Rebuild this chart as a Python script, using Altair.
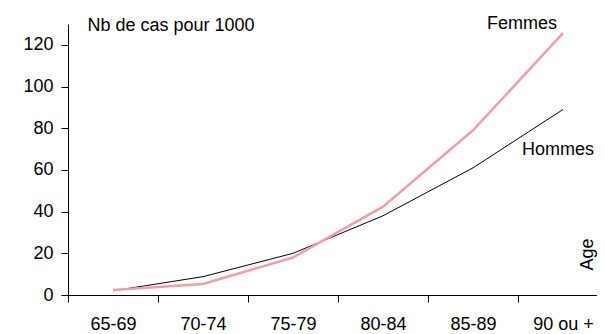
import altair as alt
import pandas as pd

ages = ["65-69", "70-74", "75-79", "80-84", "85-89", "90 ou +"]
hommes = [2.0, 8.8, 20.0, 38.0, 61.0, 89.0]
femmes = [2.4, 5.3, 18.0, 42.4, 79.0, 125.6]

label_text = ["Femmes", "Hommes"]
label_idx = [5, 5]
label_y = [130, 69.5]
label_dx = [-41, -5]

FONT = "Liberation Sans"
FS = 18

idx = list(range(len(ages)))
df = pd.DataFrame(
    {"idx": idx * 2,
     "age": ages * 2,
     "val": hommes + femmes,
     "sexe": ["Hommes"] * len(ages) + ["Femmes"] * len(ages)}
)
lab = pd.DataFrame({"t": label_text, "idx": label_idx, "val": label_y})

# plot area 529 px wide with a 90 px step per age group (last group runs off the edge)
xscale = alt.Scale(domain=[-0.5, -0.5 + 529 / 90], nice=False, zero=False)
yscale = alt.Scale(domain=[0, 130], nice=False)

age_arr = "[" + ",".join("'" + a + "'" for a in ages) + "]"
tick_vals = [i - 0.5 for i in range(len(ages) + 1)] + idx

xaxis = alt.Axis(
    title="Age", titleAngle=270, titleX=519, titleY=-41, titleAlign="center",
    titleBaseline="middle", titleFont=FONT, titleFontSize=FS, titleFontWeight="normal",
    titleColor="black",
    values=tick_vals,
    labelExpr="datum.value % 1 == 0 ? " + age_arr + "[datum.value] : ''",
    tickOpacity=alt.condition("datum.value % 1 == 0", alt.value(0), alt.value(1)),
    tickSize=7, tickColor="black", domainColor="black",
    labelFont=FONT, labelFontSize=FS, labelColor="black", labelPadding=13,
    labelOverlap=False, labelFlush=False,
    grid=False, labelAngle=0,
)
yaxis = alt.Axis(
    title="Nb de cas pour 1000", titleAngle=0, titleX=19, titleY=1, titleAlign="left",
    titleBaseline="middle", titleFont=FONT, titleFontSize=FS, titleFontWeight="normal",
    titleColor="black",
    values=[0, 20, 40, 60, 80, 100, 120], tickSize=7, tickColor="black",
    domainColor="black", labelFont=FONT, labelFontSize=FS, labelColor="black",
    labelPadding=8, grid=False,
)

lines = alt.Chart(df).mark_line(clip=False).encode(
    x=alt.X("idx:Q", scale=xscale, axis=xaxis),
    y=alt.Y("val:Q", scale=yscale, axis=yaxis),
    color=alt.Color("sexe:N", scale=alt.Scale(domain=["Hommes", "Femmes"],
                                               range=["#000000", "#EE9FA8"]), legend=None),
    strokeWidth=alt.StrokeWidth("sexe:N", scale=alt.Scale(domain=["Hommes", "Femmes"],
                                                         range=[1, 2.5]), legend=None),
)

label_layers = []
for i in range(len(label_text)):
    label_layers.append(
        alt.Chart(lab.iloc[[i]]).mark_text(font=FONT, fontSize=FS, color="black",
                                           baseline="middle", align="center",
                                           dx=label_dx[i]).encode(
            x=alt.X("idx:Q", scale=xscale),
            y=alt.Y("val:Q", scale=yscale),
            text="t:N",
        )
    )

chart = alt.layer(lines, *label_layers).properties(
    width=529, height=271,
    autosize=alt.AutoSizeParams(type="none"),
    padding={"left": 60, "top": 16, "right": 0, "bottom": 39},
    background="white",
).configure_view(stroke=None)

chart.save("out.html", embed_options={"renderer": "svg", "actions": False})
